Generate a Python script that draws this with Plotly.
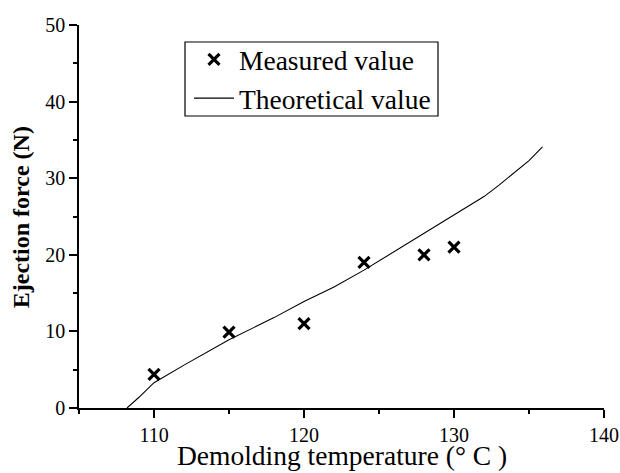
import plotly.graph_objects as go

# Measured data
meas_temp = [110, 115, 120, 124, 128, 130]
meas_force = [4.4, 9.9, 11.0, 19.0, 20.0, 21.0]

# Theoretical curve
theo_temp = [108.2, 109, 110, 112, 115, 118, 120, 122, 124, 125, 126, 127, 128,
             129, 130, 131, 132, 133, 134, 135, 135.9]
theo_force = [0.0, 1.4, 3.3, 5.6, 8.9, 11.8, 13.9, 15.8, 18.0, 19.2, 20.4, 21.6, 22.8,
              24.0, 25.2, 26.4, 27.6, 29.1, 30.7, 32.3, 34.1]

x_ticks = [110, 120, 130, 140]
y_ticks = [0, 10, 20, 30, 40, 50]

FONT = "Liberation Serif"

fig = go.Figure()
fig.add_trace(go.Scatter(
    x=meas_temp, y=meas_force, mode="markers", name="Measured value",
    marker=dict(symbol="x-thin", size=11, color="black",
                line=dict(width=3.2, color="black")),
))
fig.add_trace(go.Scatter(
    x=theo_temp, y=theo_force, mode="lines", name="Theoretical value",
    line=dict(color="black", width=1.1),
))

axis_common = dict(
    showgrid=False, zeroline=False, showline=True, linecolor="black",
    linewidth=1.6, ticks="outside", ticklen=8, tickwidth=1.5, tickcolor="black",
    tickfont=dict(family=FONT, size=20, color="black"), automargin=False,
)

fig.update_xaxes(
    range=[105, 140], tickvals=x_ticks, **axis_common,
    minor=dict(ticks="outside", ticklen=4, dtick=5, tick0=105, tickwidth=1.5,
               tickcolor="black"),
)
fig.update_yaxes(
    range=[0, 50], tickvals=y_ticks, **axis_common,
    minor=dict(ticks="outside", ticklen=4, dtick=5, tick0=0, tickwidth=1.5,
               tickcolor="black"),
)

fig.add_annotation(
    text="Demolding temperature (° C )", xref="paper", yref="paper",
    x=0.5, y=0, yshift=-47, xanchor="center", yanchor="middle",
    showarrow=False, font=dict(family=FONT, size=27.5, color="black"),
)
fig.add_annotation(
    text="<b>Ejection force (N)</b>", xref="paper", yref="paper",
    x=0, xshift=-58, y=0.498, xanchor="center", yanchor="middle",
    textangle=-90, showarrow=False,
    font=dict(family=FONT, size=24, color="black"),
)

# legend frame
fig.add_shape(type="rect", xref="paper", yref="paper",
              x0=0.2019, x1=0.6838, y0=0.7624, y1=0.9556,
              line=dict(color="black", width=1.2), fillcolor="rgba(0,0,0,0)")

fig.update_layout(
    width=620, height=473,
    margin=dict(l=79, r=16, t=25, b=65),
    paper_bgcolor="white", plot_bgcolor="white",
    showlegend=True,
    legend=dict(
        x=0.2095, y=0.974, xanchor="left", yanchor="top",
        borderwidth=0, bgcolor="rgba(0,0,0,0)",
        font=dict(family=FONT, size=27.5, color="black"),
        itemwidth=40, tracegroupgap=0,
    ),
)

fig.write_html(
    "out.html",
    config={"displayModeBar": False},
    post_script="document.body.style.margin='0';document.body.style.overflow='hidden';",
)
